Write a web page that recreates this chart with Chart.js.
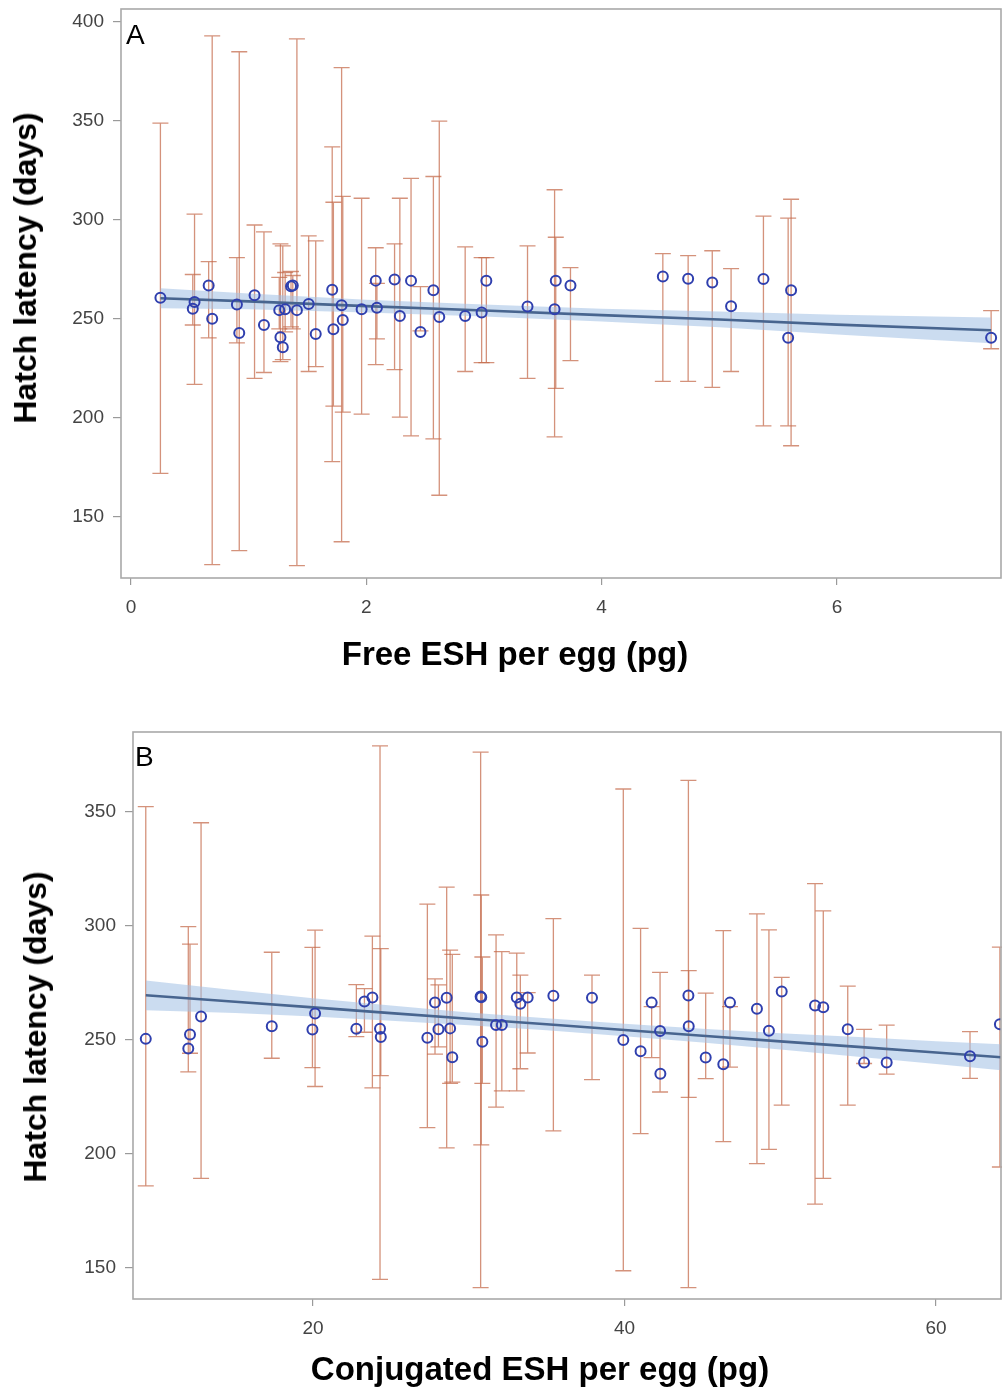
<!DOCTYPE html>
<html><head><meta charset="utf-8">
<script src="https://cdn.jsdelivr.net/npm/chart.js@4/dist/chart.umd.min.js"></script>
<style>
html,body{margin:0;padding:0;background:#fff;}
#wrap{position:relative;width:1002px;height:1389px;overflow:hidden;font-family:"Liberation Sans",Arial,sans-serif;}
canvas{position:absolute;left:0;}
.t{position:absolute;white-space:nowrap;font-weight:bold;line-height:1;color:#000;transform:translate(-50%,-50%);}
.tx{font-size:33px;}
.v{font-size:32px;transform:translate(-50%,-50%) rotate(-90deg);}
.p{position:absolute;font-size:28px;line-height:1;color:#000;}
</style></head>
<body><div id="wrap">
<canvas id="cA" width="1002" height="700" style="top:0px"></canvas>
<canvas id="cB" width="1002" height="689" style="top:700px"></canvas>
<div class="t v" style="left:25px;top:268px">Hatch latency (days)</div>
<div class="t tx" style="left:515px;top:653px">Free ESH per egg (pg)</div>
<div class="t v" style="left:35px;top:1027px">Hatch latency (days)</div>
<div class="t tx" style="left:540px;top:1368px">Conjugated ESH per egg (pg)</div>
<div class="p" style="left:126px;top:21px">A</div>
<div class="p" style="left:135px;top:743px">B</div>
</div>
<script>
// ---------- Panel A: Free ESH ----------
const freeX = [0.25,0.525,0.54,0.66,0.69,0.90,0.92,1.05,1.13,1.26,1.27,1.29,1.31,1.36,1.375,1.41,1.51,1.57,1.71,1.72,1.79,1.80,1.96,2.08,2.09,2.24,2.285,2.38,2.46,2.57,2.62,2.84,2.98,3.02,3.37,3.60,3.61,3.735,4.52,4.735,4.94,5.10,5.375,5.585,5.61,7.31];
const latA  = [260.7,255.2,258.6,267.0,250.2,257.3,243.0,262.0,247.0,254.5,240.8,235.7,255.0,266.5,267.0,254.5,257.6,242.5,264.8,244.8,257.0,249.5,255.0,269.4,255.7,270.0,251.5,269.4,243.5,264.5,251.0,251.5,253.3,269.3,256.3,255.0,269.3,267.0,271.5,270.3,268.5,256.5,270.2,240.5,264.5,240.5];
const loA   = [172,247,217,240.5,126,238,133,220,223,245,228.5,229.5,243.5,246,245,125.5,223.5,226,178,206,137.5,203,202,227,240,224.5,200.5,191,244,189.5,161,223.5,228,228,220,190.5,215,229,218.5,218.5,215.5,223.5,196,196,186,235];
const hiA   = [349,272.5,303,279,393,281,385,297.5,294,271,288,287,273.5,274,272,391.5,292,289.5,337,309,377,312,311,286,268,288,311,321,266.4,322,350,286.5,281,281,287,315.3,291.3,276,283,282,284.5,275.5,302,301,310.5,254.3];
const fitAx   = [0.25,1,2,3,4,5,6,7.31];
const fitAy   = [260.5,258.9,256.5,254.3,252.0,249.8,247.2,244.3];
const bandAlo = [255.5,254.9,253.3,251.3,248.8,245.8,242.2,237.8];
const bandAhi = [265.5,262.9,259.7,257.3,255.2,253.8,252.2,250.8];
const ticksAx = [0,2,4,6];
const ticksAy = [150,200,250,300,350,400];

// ---------- Panel B: Conjugated ESH ----------
const conjX = [9.26,11.99,12.10,12.81,17.35,19.96,20.13,22.78,23.30,23.81,24.30,24.35,27.34,27.83,28.05,28.58,28.80,28.94,30.76,30.80,30.87,31.75,32.12,33.08,33.31,33.78,35.43,37.91,39.92,41.03,41.74,42.28,42.30,44.10,44.12,45.21,46.34,46.77,48.50,49.27,50.09,52.23,52.76,54.33,55.38,56.83,62.18,64.10];
const latB  = [250.5,246.3,252.4,260.3,256.0,254.6,261.6,254.9,266.9,268.6,254.9,251.3,251.0,266.5,254.7,268.5,255.1,242.4,269.1,268.8,249.2,256.6,256.6,268.6,265.9,268.6,269.4,268.5,250.0,245.1,266.4,254.0,235.2,269.5,256.0,242.3,239.4,266.4,263.7,254.1,271.3,265.1,264.4,254.7,240.1,240.1,242.9,256.9];
const loB   = [186,236,244.2,189.3,242,237.9,229.6,251.5,253.4,229,145,234.4,211.6,243.8,247,202.7,231,231.5,141.4,204,231,220.6,227.7,227.7,237.4,244.3,210.1,232.6,148.8,208.9,242.3,227.2,null,141.4,224.8,233.1,205.4,238.1,195.8,202,221.4,178,189.3,221.4,239.7,235,233.2,194.3];
const hiB   = [352.4,299.7,292.1,345.3,288.5,290.6,298.2,274.3,272.5,295.6,379,290.1,309.6,276.8,274.2,317.1,289.4,287.6,376.3,313.6,286.4,296.1,288.8,288.1,278.5,270.8,303.2,278.5,360.1,299,264.6,279.7,null,363.9,280.4,270.6,298,264.6,305.3,298.3,277.5,318.6,306.6,273.6,254.7,256.5,253.7,290.7];
const fitBx   = [9.26,15,20,25,30,35,40,45,50,55,60,64.2];
const fitBy   = [269.6,266.8,264.3,261.8,259.3,256.9,254.4,251.9,249.4,247.0,244.5,242.4];
const bandBlo = [263.1,261.8,260.3,258.5,256.5,254.3,251.7,248.9,245.8,242.7,239.5,236.7];
const bandBhi = [276.1,271.8,268.3,265.1,262.1,259.5,257.1,254.9,253.0,251.3,249.5,248.1];
const ticksBx = [20,40,60];
const ticksBy = [150,200,250,300,350];

const pts = (xs, ys) => xs.map((v, i) => ({x: v, y: ys[i]}));

function errPlugin(xs, lo, hi) {
  return {
    id: 'errbars',
    beforeDatasetsDraw(chart) {
      const {ctx, scales: {x, y}} = chart;
      ctx.save();
      ctx.strokeStyle = 'rgba(196,104,72,0.72)';
      ctx.lineWidth = 1.3;
      for (let i = 0; i < xs.length; i++) {
        if (lo[i] == null || hi[i] == null) continue;
        const px = x.getPixelForValue(xs[i]);
        const p1 = y.getPixelForValue(lo[i]);
        const p2 = y.getPixelForValue(hi[i]);
        ctx.beginPath();
        ctx.moveTo(px, p1); ctx.lineTo(px, p2);
        ctx.moveTo(px - 8, p1); ctx.lineTo(px + 8, p1);
        ctx.moveTo(px - 8, p2); ctx.lineTo(px + 8, p2);
        ctx.stroke();
      }
      ctx.restore();
    }
  };
}
const framePlugin = {
  id: 'frame',
  afterDatasetsDraw(chart) {
    const {ctx, chartArea: a} = chart;
    ctx.save();
    ctx.strokeStyle = '#a9a9a9';
    ctx.lineWidth = 1.6;
    ctx.strokeRect(a.left, a.top, a.right - a.left, a.bottom - a.top);
    ctx.restore();
  }
};

function makeChart(id, c) {
  const tickFont = {family: '"Liberation Sans", Arial, sans-serif', size: 19};
  return new Chart(document.getElementById(id), {
    type: 'scatter',
    data: {
      datasets: [
        {type: 'scatter', label: 'obs', data: pts(c.xs, c.ys), pointStyle: 'circle', pointRadius: 5,
         pointBorderWidth: 2, borderColor: '#2f3fae', backgroundColor: 'rgba(0,0,0,0)', order: 0},
        {type: 'line', label: 'fit', data: pts(c.fx, c.fy), borderColor: '#48658f', borderWidth: 2.6,
         pointRadius: 0, tension: 0, fill: false, order: 1},
        {type: 'line', label: 'lo', data: pts(c.fx, c.blo), borderColor: 'rgba(0,0,0,0)', borderWidth: 0,
         pointRadius: 0, tension: 0, fill: false, order: 3},
        {type: 'line', label: 'hi', data: pts(c.fx, c.bhi), borderColor: 'rgba(0,0,0,0)', borderWidth: 0,
         pointRadius: 0, tension: 0, fill: '-1', backgroundColor: 'rgba(160,192,228,0.55)', order: 2}
      ]
    },
    options: {
      responsive: false, animation: false, devicePixelRatio: 1,
      layout: {autoPadding: false, padding: {left: 0, top: c.top, right: 1, bottom: 0}},
      plugins: {legend: {display: false}, tooltip: {enabled: false}},
      scales: {
        x: {type: 'linear', min: c.xmin, max: c.xmax,
            afterBuildTicks: s => { s.ticks = c.tx.map(v => ({value: v})); },
            afterFit: s => { s.height = c.xh; s.paddingLeft = 0; s.paddingRight = 0; s.paddingTop = 0; s.paddingBottom = 0; },
            grid: {drawOnChartArea: false, drawTicks: true, tickLength: 7, color: '#9a9a9a', lineWidth: 1.2},
            border: {display: false},
            ticks: {font: tickFont, color: '#444', padding: 11, maxRotation: 0, autoSkip: false}},
        y: {type: 'linear', min: c.ymin, max: c.ymax,
            afterBuildTicks: s => { s.ticks = c.ty.map(v => ({value: v})); },
            afterFit: s => { s.width = c.yw; s.paddingLeft = 0; s.paddingRight = 0; s.paddingTop = 0; s.paddingBottom = 0; },
            grid: {drawOnChartArea: false, drawTicks: true, tickLength: 8, color: '#9a9a9a', lineWidth: 1.2},
            border: {display: false},
            ticks: {font: tickFont, color: '#444', padding: 9, autoSkip: false}}
      }
    },
    plugins: [errPlugin(c.xs, c.lo, c.hi), framePlugin]
  });
}

makeChart('cA', {xs: freeX, ys: latA, lo: loA, hi: hiA, fx: fitAx, fy: fitAy, blo: bandAlo, bhi: bandAhi,
  tx: ticksAx, ty: ticksAy, xmin: -0.085, xmax: 7.394, ymin: 119.2, ymax: 406.6, top: 9, xh: 122, yw: 121});
makeChart('cB', {xs: conjX, ys: latB, lo: loB, hi: hiB, fx: fitBx, fy: fitBy, blo: bandBlo, bhi: bandBhi,
  tx: ticksBx, ty: ticksBy, xmin: 8.44, xmax: 64.17, ymin: 136.4, ymax: 385.1, top: 32, xh: 90, yw: 133});
</script>
</body></html>
